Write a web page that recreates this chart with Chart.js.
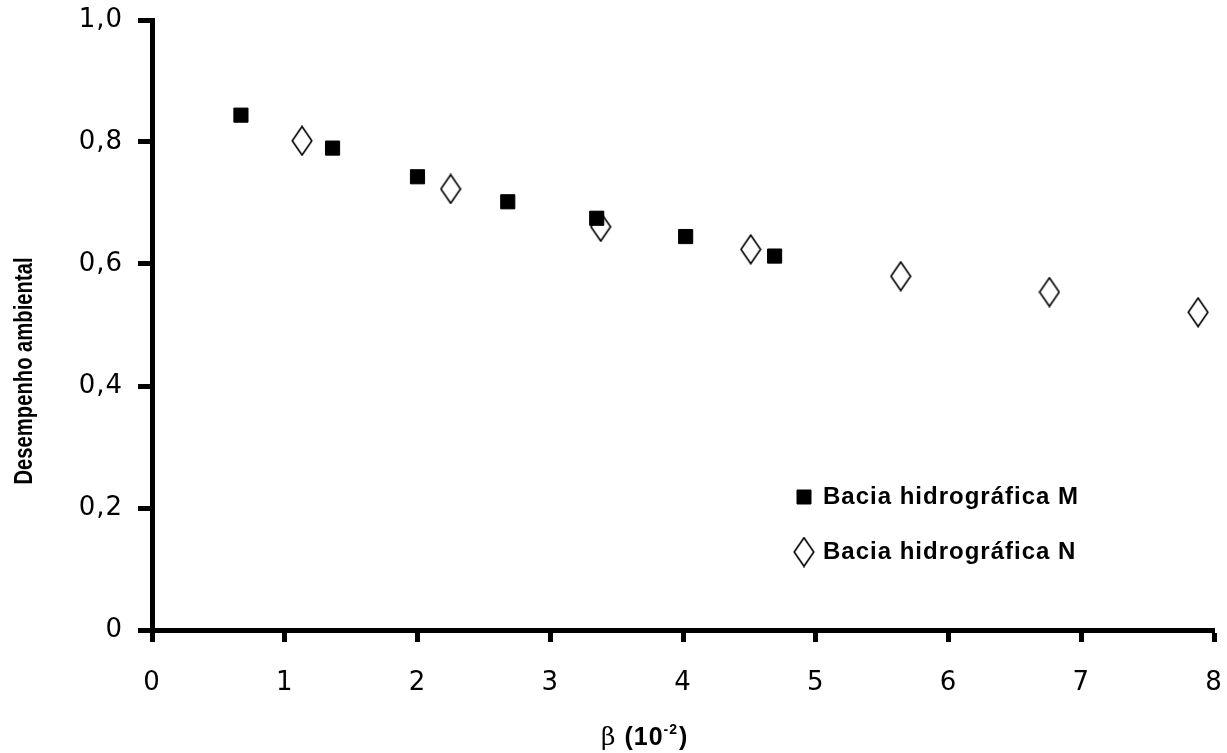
<!DOCTYPE html>
<html>
<head>
<meta charset="utf-8">
<script src="https://cdn.jsdelivr.net/npm/chart.js@4.4.1/dist/chart.umd.min.js"></script>
<style>
  html, body { margin: 0; padding: 0; background: #ffffff; }
  #wrap { width: 1227px; height: 753px; position: relative; }
</style>
</head>
<body>
<div id="wrap"><canvas id="c" width="1227" height="753"></canvas></div>
<script>
// ---- data ----
const seriesMName = 'Bacia hidrográfica M';
const seriesNName = 'Bacia hidrográfica N';
const mX = [0.67, 1.36, 2.0, 2.68, 3.35, 4.02, 4.69];
const mY = [0.844, 0.790, 0.743, 0.702, 0.675, 0.645, 0.613];
const nX = [1.13, 2.25, 3.38, 4.51, 5.64, 6.76, 7.88];
const nY = [0.802, 0.723, 0.661, 0.624, 0.580, 0.554, 0.521];
const xTickLabels = ['0', '1', '2', '3', '4', '5', '6', '7', '8'];
const yTickLabels = ['0', '0,2', '0,4', '0,6', '0,8', '1,0'];
const yTitle = 'Desempenho ambiental';
const xTitleParts = ['β', ' (10', '-2', ')'];

// ---- diamond marker (open, tall) ----
function makeDiamond() {
  const cv = document.createElement('canvas');
  cv.width = 22; cv.height = 31;
  const g = cv.getContext('2d');
  g.beginPath();
  g.moveTo(11, 1.2);
  g.lineTo(20.8, 15.5);
  g.lineTo(11, 29.8);
  g.lineTo(1.2, 15.5);
  g.closePath();
  g.fillStyle = '#ffffff';
  g.fill();
  g.lineWidth = 1.6;
  g.strokeStyle = '#000000';
  g.stroke();
  return cv;
}
const diamond = makeDiamond();

const spacingPlugin = {
  id: 'spacingPlugin',
  beforeUpdate(chart) { chart.ctx.letterSpacing = '1px'; },
  beforeDraw(chart) { chart.ctx.letterSpacing = '1px'; }
};

const legendPlacer = {
  id: 'legendPlacer',
  beforeDraw(chart) {
    const l = chart.legend;
    if (!l) return;
    const w = l.width, h = l.height;
    l.left = 766; l.top = 454;
    l.right = l.left + w; l.bottom = l.top + h;
  }
};

const titlesPlugin = {
  id: 'titlesPlugin',
  afterDraw(chart) {
    const ctx = chart.ctx;
    // y title (condensed along its length)
    ctx.save();
    ctx.letterSpacing = '0px';
    ctx.fillStyle = '#000';
    ctx.font = 'bold 26px "Liberation Sans", Arial, sans-serif';
    const tw = ctx.measureText(yTitle).width;
    const k = 227 / tw;
    ctx.translate(31.5, 371);
    ctx.rotate(-Math.PI / 2);
    ctx.scale(k, 1);
    ctx.textAlign = 'center';
    ctx.textBaseline = 'alphabetic';
    ctx.fillText(yTitle, 0, 0);
    ctx.restore();
    // x title
    ctx.save();
    ctx.letterSpacing = '1px';
    ctx.fillStyle = '#000';
    ctx.textAlign = 'left';
    ctx.textBaseline = 'alphabetic';
    let x = 601;
    const base = 745;
    ctx.font = '25px "DejaVu Serif", "Liberation Serif", serif';
    ctx.fillText(xTitleParts[0], x, base);
    x += ctx.measureText(xTitleParts[0]).width;
    ctx.font = 'bold 25px "Liberation Sans", Arial, sans-serif';
    ctx.fillText(xTitleParts[1], x, base);
    x += ctx.measureText(xTitleParts[1]).width;
    ctx.font = 'bold 14px "Liberation Sans", Arial, sans-serif';
    ctx.fillText(xTitleParts[2], x, base - 11);
    x += ctx.measureText(xTitleParts[2]).width + 1;
    ctx.font = 'bold 25px "Liberation Sans", Arial, sans-serif';
    ctx.fillText(xTitleParts[3], x, base);
    ctx.restore();
  }
};

const tickFont = { family: '"DejaVu Sans", "Liberation Sans", sans-serif', size: 26 };

new Chart(document.getElementById('c'), {
  type: 'scatter',
  data: {
    datasets: [
      {
        label: seriesMName,
        data: mX.map((x, i) => ({ x: x, y: mY[i] })),
        pointStyle: 'rect',
        pointRadius: 10,
        pointHoverRadius: 10,
        backgroundColor: '#000000',
        borderColor: '#000000',
        borderWidth: 1
      },
      {
        label: seriesNName,
        data: nX.map((x, i) => ({ x: x, y: nY[i] })),
        pointStyle: diamond,
        pointRadius: 12,
        backgroundColor: '#ffffff',
        borderColor: '#000000',
        borderWidth: 1
      }
    ]
  },
  options: {
    responsive: false,
    animation: false,
    events: [],
    layout: { padding: { left: 0, top: 20, right: 11, bottom: 0 } },
    plugins: {
      tooltip: { enabled: false },
      title: { display: false },
      legend: {
        display: true,
        position: 'chartArea',
        align: 'start',
        labels: {
          usePointStyle: true,
          boxHeight: 14,
          boxWidth: 14,
          padding: 31,
          color: '#000000',
          font: { family: '"Liberation Sans", Arial, sans-serif', size: 24, weight: 'bold' }
        }
      }
    },
    scales: {
      x: {
        type: 'linear',
        min: 0, max: 8,
        afterFit: (s) => { s.height = 123; s.paddingLeft = 0; s.paddingRight = 0; },
        afterBuildTicks: (s) => { s.ticks = xTickLabels.map((t, i) => ({ value: i })); },
        ticks: {
          stepSize: 1,
          padding: 26,
          color: '#000000',
          font: tickFont,
          maxRotation: 0,
          callback: (v, i) => xTickLabels[i]
        },
        grid: { display: true, drawOnChartArea: false, drawTicks: true, tickLength: 12, tickWidth: 5, tickColor: '#000000', color: '#000000' },
        border: { display: true, color: '#000000', width: 5 },
        title: { display: false }
      },
      y: {
        type: 'linear',
        min: 0, max: 1,
        afterFit: (s) => { s.width = 152; s.paddingTop = 0; s.paddingBottom = 0; },
        afterBuildTicks: (s) => { s.ticks = yTickLabels.map((t, i) => ({ value: i * 0.2 })); },
        ticks: {
          stepSize: 0.2,
          padding: 15,
          color: '#000000',
          font: tickFont,
          callback: (v, i) => yTickLabels[i]
        },
        grid: { display: true, drawOnChartArea: false, drawTicks: true, tickLength: 14, tickWidth: 5, tickColor: '#000000', color: '#000000' },
        border: { display: true, color: '#000000', width: 5 },
        title: { display: false }
      }
    }
  },
  plugins: [spacingPlugin, legendPlacer, titlesPlugin]
});
</script>
</body>
</html>
